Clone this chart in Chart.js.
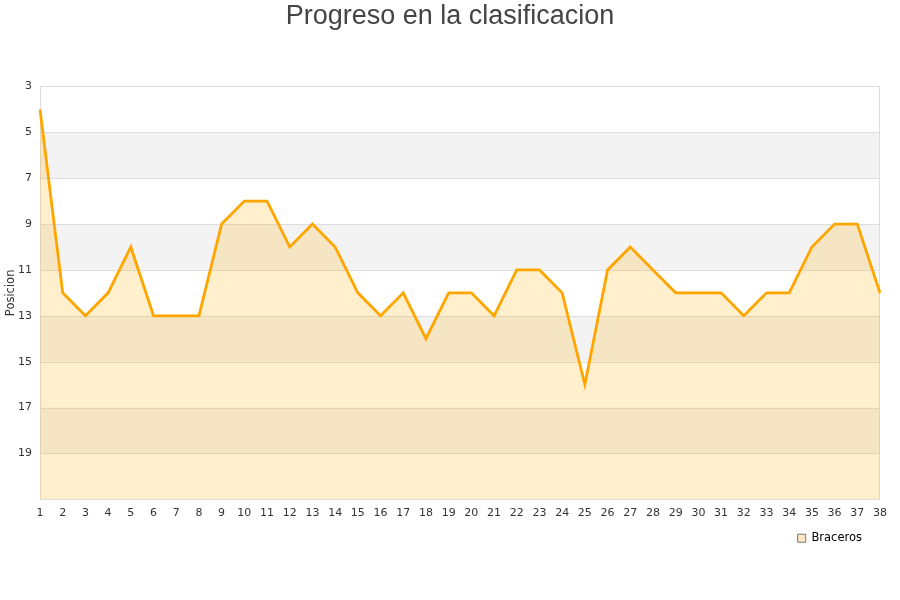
<!DOCTYPE html>
<html>
<head>
<meta charset="utf-8">
<script src="https://cdn.jsdelivr.net/npm/chart.js@4/dist/chart.umd.min.js"></script>
<style>
  html, body { margin: 0; padding: 0; background: #fff; }
  #wrap { width: 900px; height: 600px; }
</style>
</head>
<body>
<div id="wrap"><canvas id="chart" width="900" height="600"></canvas></div>
<script>
// Jornadas y posiciones
const jornadas = [1,2,3,4,5,6,7,8,9,10,11,12,13,14,15,16,17,18,19,20,21,22,23,24,25,26,27,28,29,30,31,32,33,34,35,36,37,38];
const posiciones = [4,12,13,12,10,13,13,13,9,8,8,10,9,10,12,13,12,14,12,12,13,11,11,12,16,11,10,11,12,12,12,13,12,12,10,9,9,12];
const yTicks = [3,5,7,9,11,13,15,17,19];
const yMin = 3;
const yMax = 21;

// Alternating background bands + plot border
const bandsPlugin = {
    id: 'bands',
    beforeDatasetsDraw(chart) {
        const ctx = chart.ctx;
        const area = chart.chartArea;
        const y = chart.scales.y;
        ctx.save();
        for (let v = yMin; v < yMax; v += 2) {
            const idx = (v - yMin) / 2;
            const top = y.getPixelForValue(v);
            const bottom = y.getPixelForValue(v + 2);
            ctx.fillStyle = idx % 2 === 1 ? '#f3f3f3' : '#ffffff';
            ctx.fillRect(area.left, top, area.right - area.left, bottom - top);
        }
        ctx.strokeStyle = '#dddddd';
        ctx.lineWidth = 1;
        yTicks.forEach(function(v) {
            const py = Math.round(y.getPixelForValue(v)) + 0.5;
            ctx.beginPath();
            ctx.moveTo(area.left, py);
            ctx.lineTo(area.right, py);
            ctx.stroke();
        });
        ctx.strokeRect(Math.round(area.left) + 0.5, Math.round(area.top) + 0.5,
            Math.round(area.right - area.left) - 1, Math.round(area.bottom - area.top));
        ctx.restore();
    }
};

// Pull the legend in a bit from the right edge
const legendShift = {
    id: 'legendShift',
    beforeDraw(chart) {
        if (chart.legend) {
            chart.legend.right = chart.chartArea.right - 12;
        }
    }
};

new Chart(document.getElementById('chart').getContext('2d'), {
    type: 'line',
    data: {
        labels: jornadas,
        datasets: [{
            label: 'Braceros',
            data: posiciones,
            borderColor: '#ffa500',
            backgroundColor: 'rgba(255, 175, 0, 0.2)',
            borderWidth: 2.8,
            pointRadius: 0,
            tension: 0,
            fill: { value: yMax }
        }]
    },
    options: {
        responsive: false,
        animation: false,
        layout: { padding: { left: 0, right: 0, top: 0, bottom: 46 } },
        plugins: {
            title: {
                display: true,
                text: 'Progreso en la clasificacion',
                color: '#444444',
                font: { family: 'Liberation Sans', size: 27, weight: 'normal' },
                padding: { top: 0, bottom: 54 }
            },
            legend: {
                position: 'bottom',
                align: 'end',
                labels: {
                    boxWidth: 8,
                    boxHeight: 8,
                    padding: 6,
                    color: '#111',
                    font: { family: 'DejaVu Sans', size: 11.5 },
                    generateLabels: function(chart) {
                        return [{
                            text: 'Braceros',
                            fillStyle: '#fde9c5',
                            strokeStyle: '#777777',
                            lineWidth: 1,
                            datasetIndex: 0
                        }];
                    }
                }
            },
            tooltip: { enabled: false }
        },
        scales: {
            x: {
                offset: false,
                grid: { display: false, drawTicks: false },
                border: { display: false },
                ticks: {
                    color: '#333',
                    font: { family: 'DejaVu Sans', size: 11 },
                    maxRotation: 0,
                    autoSkip: false,
                    padding: 7
                }
            },
            y: {
                reverse: true,
                min: yMin,
                max: yMax,
                afterBuildTicks: function(scale) {
                    scale.ticks = yTicks.map(function(v) { return { value: v }; });
                },
                afterFit: function(scale) { scale.width = 40; },
                grid: { display: false, drawTicks: false },
                border: { display: false },
                title: {
                    display: true,
                    text: 'Posicion',
                    color: '#333',
                    font: { family: 'DejaVu Sans', size: 11.5 },
                    padding: { top: 4, bottom: 0 }
                },
                ticks: {
                    color: '#333',
                    font: { family: 'DejaVu Sans', size: 11 },
                    padding: 8
                }
            },
            yRight: {
                position: 'right',
                display: true,
                grid: { display: false, drawTicks: false },
                border: { display: false },
                ticks: { display: false },
                afterFit: function(scale) { scale.width = 20; }
            }
        }
    },
    plugins: [bandsPlugin, legendShift]
});
</script>
</body>
</html>
